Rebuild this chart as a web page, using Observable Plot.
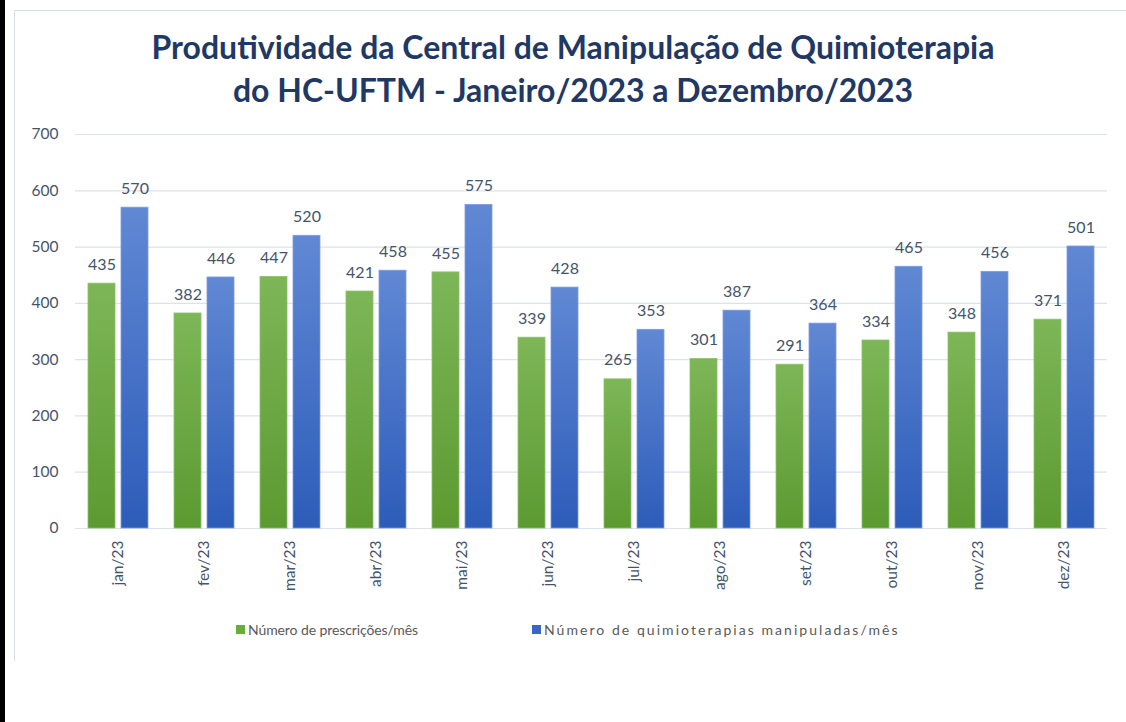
<!DOCTYPE html>
<html>
<head>
<meta charset="utf-8">
<script src="https://cdn.jsdelivr.net/npm/d3@7"></script>
<script src="https://cdn.jsdelivr.net/npm/@observablehq/plot@0.6"></script>
<style>
  html, body { margin: 0; padding: 0; background: #fff; }
  body { width: 1126px; height: 722px; position: relative; overflow: hidden; font-family: Lato, "Open Sans", sans-serif; }
  #strip { position: absolute; left: 0; top: 0; width: 5px; height: 722px; background: #000; }
  #frame { position: absolute; left: 14px; top: 10px; width: 1140px; height: 650px; border-left: 1.5px solid #d9dee6; border-top: 1.5px solid #d9dee6; }
  #title { position: absolute; left: 0; width: 1146px; top: 25px; text-align: center; font-weight: 700; font-size: 32px; line-height: 43px; color: #1f3864; }
  #chart { position: absolute; left: 0; top: 0; }
  #legend { position: absolute; top: 621px; left: 0; width: 1126px; font-size: 14px; color: #595959; }
  .item { position: absolute; display: flex; align-items: center; white-space: nowrap; }
  .sw { width: 9px; height: 9px; margin-right: 3px; }
</style>
</head>
<body>
<div id="strip"></div>
<div id="frame"></div>
<div id="chart"></div>
<div id="title">Produtividade da Central de Manipulação de Quimioterapia<br>do HC-UFTM - Janeiro/2023 a Dezembro/2023</div>
<div id="legend"></div>
<script>
const months = ["jan/23","fev/23","mar/23","abr/23","mai/23","jun/23","jul/23","ago/23","set/23","out/23","nov/23","dez/23"];
const prescricoes = [435,382,447,421,455,339,265,301,291,334,348,371];
const quimioterapias = [570,446,520,458,575,428,353,387,364,465,456,501];
const seriesNames = ["Número de prescrições/mês", "Número de quimioterapias manipuladas/mês"];
const yTicks = [0,100,200,300,400,500,600,700];

const data = [];
months.forEach((m, i) => {
  data.push({month: m, series: seriesNames[0], value: prescricoes[i]});
  data.push({month: m, series: seriesNames[1], value: quimioterapias[i]});
});

const fillFor = s => s === seriesNames[0] ? "url(#gGreen)" : "url(#gBlue)";
const strokeFor = s => s === seriesNames[0] ? "#8cc06a" : "#7d9be0";

const plot = Plot.plot({
  width: 1126,
  height: 722,
  marginLeft: 75,
  marginRight: 19,
  marginTop: 134,
  marginBottom: 194,
  style: {fontFamily: "Lato, 'Open Sans', sans-serif", background: "transparent"},
  fx: {domain: months, padding: 0, label: null},
  x: {domain: seriesNames, axis: null, paddingInner: 0.182, paddingOuter: 0.394},
  y: {domain: [0, 700], label: null},
  marks: [
    Plot.ruleY(yTicks, {stroke: "#dce1ea", strokeWidth: 1.2}),
    Plot.axisY(yTicks, {tickSize: 0, tickPadding: 17, fontSize: 15.5, fill: "#44546a", label: null}),
    Plot.axisFx({anchor: "bottom", tickRotate: -90, tickSize: 0, tickPadding: 12, fontSize: 15.5, fill: "#44546a", label: null}),
    Plot.barY(data, {fx: "month", x: "series", y: "value", fill: d => fillFor(d.series), stroke: d => strokeFor(d.series), strokeWidth: 0.8}),
    Plot.text(data, {fx: "month", x: "series", y: "value", text: d => String(d.value), dy: -19, fill: "#44546a", fontSize: 16}),
  ]
});

// gradients
const defs = d3.select(plot).insert("defs", ":first-child");
function grad(id, top, bottom) {
  const g = defs.append("linearGradient").attr("id", id).attr("x1", 0).attr("y1", 0).attr("x2", 0).attr("y2", 1);
  g.append("stop").attr("offset", "0%").attr("stop-color", top);
  g.append("stop").attr("offset", "100%").attr("stop-color", bottom);
}
grad("gGreen", "#7db657", "#5c9a31");
grad("gBlue", "#6088d4", "#2d5cb9");

document.getElementById("chart").appendChild(plot);

// legend
const leg = document.getElementById("legend");
const legendItems = [
  {name: seriesNames[0], color: "#6aab3d", left: 236, spacing: -0.1},
  {name: seriesNames[1], color: "#3a66c4", left: 532, spacing: 2.05}
];
legendItems.forEach(it => {
  const el = document.createElement("div");
  el.className = "item";
  el.style.left = it.left + "px";
  el.innerHTML = `<span class="sw" style="background:${it.color}"></span><span style="letter-spacing:${it.spacing}px">${it.name}</span>`;
  leg.appendChild(el);
});
</script>
</body>
</html>
